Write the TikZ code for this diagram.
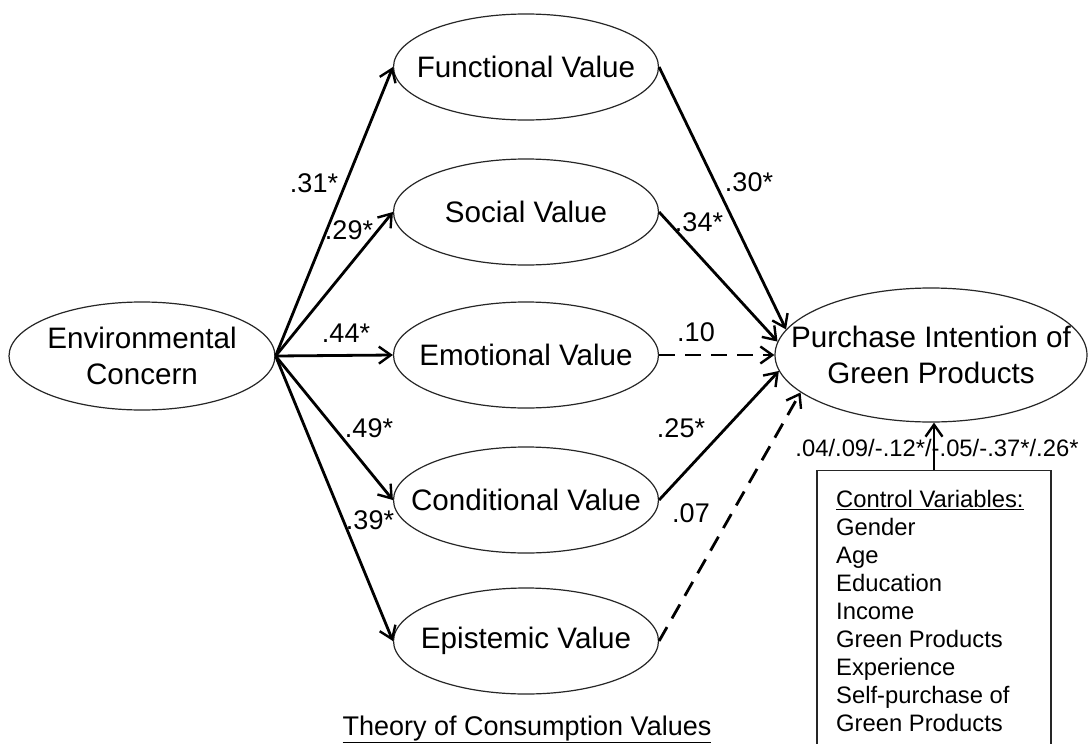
\documentclass[tikz,border=0pt]{standalone}
\usepackage{fontspec}
\setmainfont{Liberation Sans}
\usetikzlibrary{arrows.meta,shapes.geometric}
\begin{document}
\begin{tikzpicture}[x=1pt,y=-1pt,
  ell/.style={draw=black!85, ellipse, line width=1.2pt, inner sep=0pt},
  val/.style={ell, minimum width=265pt, minimum height=106pt},
  vtext/.style={font=\fontsize{29.6}{36}\selectfont, inner sep=0pt, align=center},
  arr/.style={line width=2.8pt, -{Straight Barb[length=12pt,width=17pt,line width=2.4pt]}},
  dsh/.style={arr, dash pattern=on 16pt off 10pt},
  lab/.style={font=\fontsize{27}{30}\selectfont, inner sep=0pt},
  small/.style={font=\fontsize{23.8}{28}\selectfont, inner sep=0pt}
]
\clip (0,0) rectangle (1092,744);
\fill[white] (0,0) rectangle (1092,744);

% ellipses
\node[ell, minimum width=266pt, minimum height=108pt,
      label={[vtext]center:{Environmental\\Concern}}] (ec) at (142,356) {};
\node[val, label={[vtext]center:{Functional Value}}] (fv) at (526,67) {};
\node[val, label={[vtext]center:{Social Value}}] (sv) at (526,212) {};
\node[val, label={[vtext]center:{Emotional Value}}] (emv) at (526,355) {};
\node[val, label={[vtext]center:{Conditional Value}}] (cv) at (526,500) {};
\node[val, label={[vtext]center:{Epistemic Value}}] (epv) at (526,641) {};
\node[ell, minimum width=312pt, minimum height=134pt,
      label={[vtext]center:{Purchase Intention of\\Green Products}}] (pi) at (931,355) {};

% control box
\node[draw=black!85, line width=1.2pt, rectangle, minimum width=234pt, minimum height=320pt,
      anchor=north, inner sep=0pt] (ctrl) at (934,470) {};
\node[small, align=left, anchor=north west] (ctrltext) at (836,490)
  {\underline{Control Variables:}\\Gender\\Age\\Education\\Income\\Green Products\\Experience\\Self-purchase of\\Green Products};
\node[small] (cl) at (937,448) {.04/.09/-.12*/-.05/-.37*/.26*};
\draw[arr] (ctrl.north) -- (ctrl.north |- pi.south);

% arrows from Environmental Concern
\draw[arr] (ec.east) -- (fv.west);
\draw[arr] (ec.east) -- (sv.west);
\draw[arr] (ec.east) -- (emv.west);
\draw[arr] (ec.east) -- (cv.west);
\draw[arr] (ec.east) -- (epv.west);

% arrows to Purchase Intention
\draw[arr] (fv.east) -- (pi.170);
\draw[arr] (sv.east) -- (pi.175);
\draw[dsh] (emv.east) -- (pi.west);
\draw[arr] (cv.east) -- (pi.186);
\draw[dsh] (epv.east) -- (pi.196);

% coefficient labels
\node[lab] (l31) at (314,183) {.31*};
\node[lab] (l29) at (349,230) {.29*};
\node[lab] (l44) at (346,333) {.44*};
\node[lab] (l49) at (369,428) {.49*};
\node[lab] (l39) at (370,520) {.39*};
\node[lab] (l30) at (749,182) {.30*};
\node[lab] (l34) at (699,222) {.34*};
\node[lab] (l10) at (696,332) {.10};
\node[lab] (l25) at (681,428) {.25*};
\node[lab] (l07) at (691,513) {.07};

% title
\node[font=\fontsize{27}{30}\selectfont, inner sep=0pt, anchor=base] (theory) at (527,735)
  {\underline{Theory of Consumption Values}};
\end{tikzpicture}
\end{document}
